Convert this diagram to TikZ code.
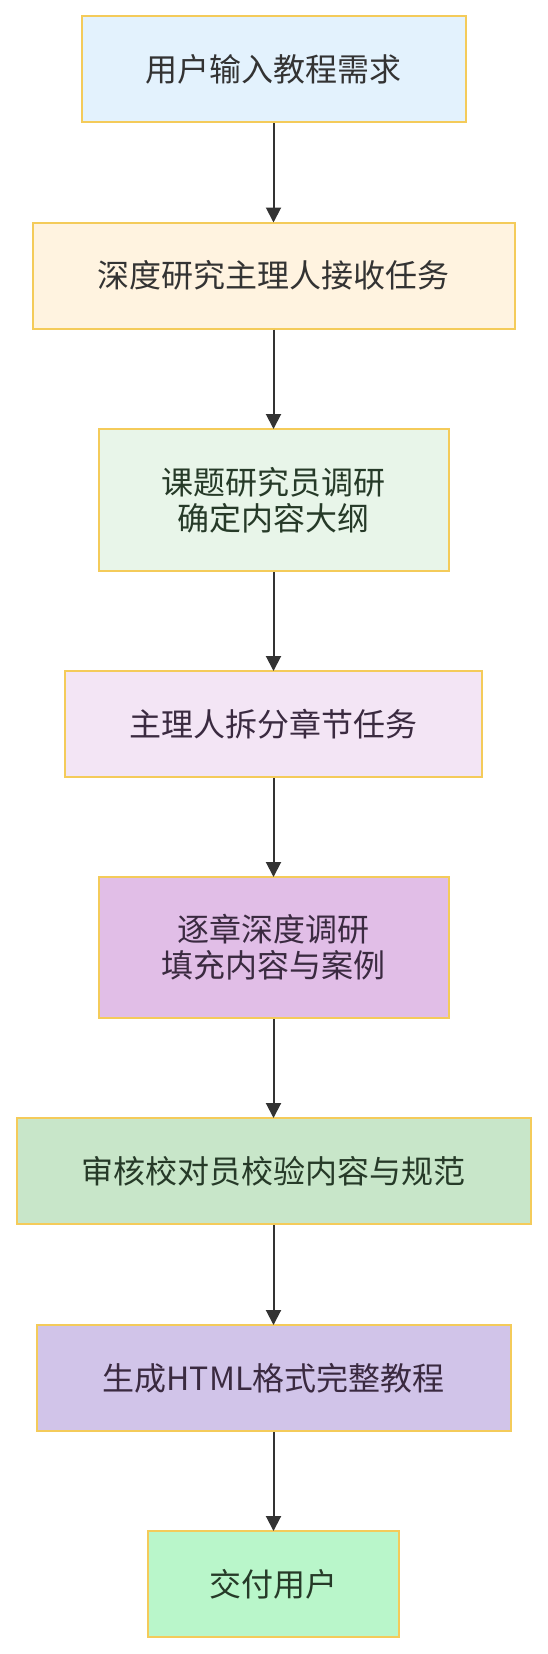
\documentclass[tikz,border=0pt]{standalone}
\usepackage{fontspec}
\setmainfont{Noto Sans CJK SC}
\usetikzlibrary{arrows.meta}
\definecolor{bordery}{HTML}{F4CB5A}
\definecolor{txt}{HTML}{333333}
\definecolor{c1}{HTML}{E3F2FD}
\definecolor{c2}{HTML}{FFF3E0}
\definecolor{c3}{HTML}{E8F5E9}
\definecolor{c4}{HTML}{F3E5F5}
\definecolor{c5}{HTML}{E1BEE7}
\definecolor{c6}{HTML}{C8E6C9}
\definecolor{c7}{HTML}{D1C4E9}
\definecolor{c8}{HTML}{B9F6CA}
\definecolor{tgreen}{HTML}{263A28}
\definecolor{tpurple}{HTML}{3A2A40}
\tikzset{
  stepbox/.style={draw=bordery, line width=2pt, rectangle, inner sep=0pt,
    align=center, text=txt, font=\fontsize{32}{36}\selectfont, minimum height=106pt},
  flow/.style={draw=txt, line width=2pt, -{Triangle[length=15pt,width=15pt]}, shorten >=-1pt}
}
\begin{document}
\begin{tikzpicture}[x=1pt,y=-1pt]
\useasboundingbox (0,0) rectangle (548,1654);
\node[stepbox, fill=c1, minimum width=384pt] (n1) at (273.5,69) {用户输入教程需求};
\node[stepbox, fill=c2, minimum width=482pt] (n2) at (273.5,275.5) {深度研究主理人接收任务};
\node[stepbox, fill=c3, text=tgreen, minimum width=350pt, minimum height=142pt] (n3) at (273.5,500) {课题研究员调研\\确定内容大纲};
\node[stepbox, fill=c4, text=tpurple, minimum width=417pt] (n4) at (273.5,724) {主理人拆分章节任务};
\node[stepbox, fill=c5, text=tpurple, minimum width=350pt, minimum height=141pt] (n5) at (273.5,947.5) {逐章深度调研\\填充内容与案例};
\node[stepbox, fill=c6, text=tgreen, minimum width=514pt] (n6) at (273.5,1171) {审核校对员校验内容与规范};
\node[stepbox, fill=c7, text=tpurple, minimum width=474pt] (n7) at (273.5,1378) {生成HTML格式完整教程};
\node[stepbox, fill=c8, text=tgreen, minimum width=251pt] (n8) at (273.5,1584) {交付用户};
\draw[flow] (n1) -- (n2);
\draw[flow] (n2) -- (n3);
\draw[flow] (n3) -- (n4);
\draw[flow] (n4) -- (n5);
\draw[flow] (n5) -- (n6);
\draw[flow] (n6) -- (n7);
\draw[flow] (n7) -- (n8);
\end{tikzpicture}
\end{document}
